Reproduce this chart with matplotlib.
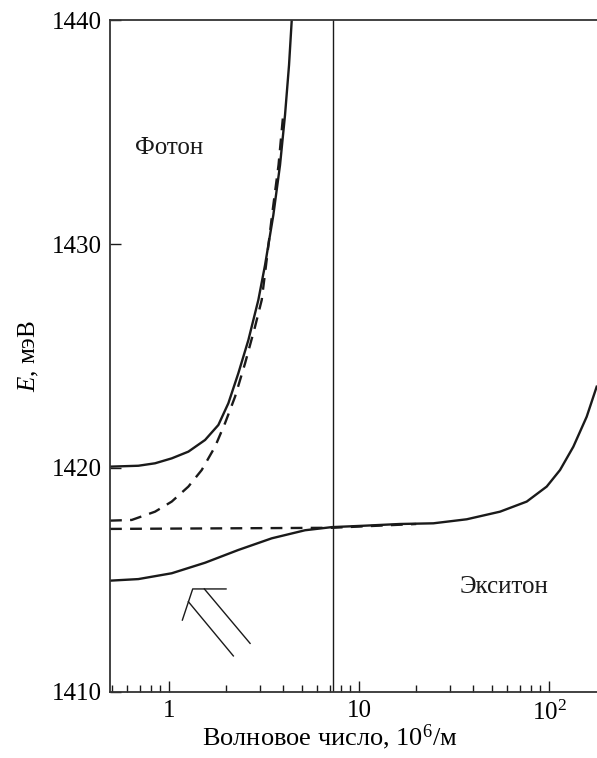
import matplotlib
matplotlib.use("Agg")
import matplotlib.pyplot as plt
from matplotlib.ticker import FixedLocator, FuncFormatter, LogLocator, NullFormatter

plt.rcParams['font.family'] = ['Liberation Serif', 'DejaVu Serif']
plt.rcParams['mathtext.fontset'] = 'custom'
plt.rcParams['mathtext.rm'] = 'Liberation Serif'
plt.rcParams['mathtext.it'] = 'Liberation Serif:italic'

FONT_SIZE = 18

# wave number, 10^6/m  /  energy, meV
k_upper = [0.489, 0.689, 0.844, 1.033, 1.264, 1.547, 1.818, 2.052, 2.316, 2.615,
           2.951, 3.201, 3.539, 3.839, 4.078, 4.281, 4.424]
e_upper = [1420.06, 1420.10, 1420.21, 1420.43, 1420.73, 1421.25, 1421.92, 1422.89, 1424.23, 1425.71,
           1427.5, 1429.06, 1431.29, 1433.53, 1435.76, 1437.99, 1440.0]

k_photon = [0.489, 0.636, 0.844, 1.033, 1.264, 1.486, 1.746, 1.971, 2.225, 2.512,
            2.836, 3.075, 3.240, 3.484, 3.770, 3.995]
e_photon = [1417.65, 1417.68, 1418.05, 1418.50, 1419.17, 1419.91, 1420.95, 1422.0, 1423.18, 1424.67,
            1426.31, 1427.5, 1429.06, 1431.29, 1433.53, 1435.85]

k_exciton_bare = [0.489, 7.18, 20.0]
e_exciton_bare = [1417.28, 1417.33, 1417.5]

k_lower = [0.489, 0.689, 1.033, 1.547, 2.316, 3.471, 5.197, 7.183, 10.5, 16.44,
           24.61, 36.89, 55.23, 76.33, 97.25, 114.3, 134.3, 157.9, 178.2]
e_lower = [1414.97, 1415.04, 1415.30, 1415.77, 1416.34, 1416.86, 1417.22, 1417.36, 1417.42, 1417.5,
           1417.53, 1417.71, 1418.05, 1418.50, 1419.17, 1419.91, 1420.95, 1422.29, 1423.63]

k_cross = 7.3

# double-line arrow (light incidence mark)
arrow_head_k = [1.995, 1.332, 1.175]
arrow_head_e = [1414.60, 1414.60, 1413.21]
arrow_line1_k = [1.264, 2.18]
arrow_line1_e = [1414.03, 1411.61]
arrow_line2_k = [1.534, 2.67]
arrow_line2_e = [1414.60, 1412.17]

fig = plt.figure(figsize=(5.97, 7.58), dpi=100)
ax = fig.add_axes([0.1843, 0.0871, 0.8157, 0.8865])

lw = 1.7
ink = "#1a1a1a"
ax.plot(k_upper, e_upper, color=ink, linewidth=lw)
ax.plot(k_lower, e_lower, color=ink, linewidth=lw)
ax.plot(k_photon, e_photon, color=ink, linewidth=lw, linestyle=(0, (5, 3.5)))
ax.plot(k_exciton_bare, e_exciton_bare, color=ink, linewidth=lw, linestyle=(0, (5, 3.5)))
ax.axvline(k_cross, color=ink, linewidth=1.0)

for xs, ys in [(arrow_head_k, arrow_head_e), (arrow_line1_k, arrow_line1_e), (arrow_line2_k, arrow_line2_e)]:
    ax.plot(xs, ys, color=ink, linewidth=1.0)

ax.set_xscale("log")
ax.set_xlim(0.489, 178.9)
ax.set_ylim(1410, 1440)

ax.xaxis.set_major_locator(FixedLocator([1, 10, 100]))
ax.xaxis.set_major_formatter(FuncFormatter(lambda v, p: {1: "1", 10: "10", 100: r"10$^2$"}.get(int(round(v)), "")))
ax.xaxis.set_minor_locator(LogLocator(base=10, subs=[2, 3, 4, 5, 6, 7, 8, 9]))
ax.xaxis.set_minor_formatter(NullFormatter())
ax.yaxis.set_major_locator(FixedLocator([1410, 1420, 1430, 1440]))

ax.tick_params(which="both", direction="in", top=False, right=False, labelsize=FONT_SIZE, color=ink)
ax.tick_params(which="major", length=8, width=1.0, pad=6)
ax.tick_params(which="minor", length=5, width=1.0)

for side in ["left", "bottom", "top"]:
    ax.spines[side].set_linewidth(1.3)
    ax.spines[side].set_color("#333333")
ax.spines["right"].set_visible(False)

ax.set_xlabel(r"Волновое число, 10$^6$/м", fontsize=19, labelpad=0)
ax.xaxis.set_label_coords(0.452, -0.045, transform=ax.transAxes)
ax.xaxis.label.set_va("top")
ax.set_ylabel(r"$E$, мэВ", fontsize=FONT_SIZE, labelpad=8)

ax.text(0.66, 1434.3, "Фотон", fontsize=FONT_SIZE, va="center", ha="left", color=ink)
ax.text(34.0, 1414.7, "Экситон", fontsize=FONT_SIZE, va="center", ha="left", color=ink)

fig.savefig("out.png", dpi=100)
